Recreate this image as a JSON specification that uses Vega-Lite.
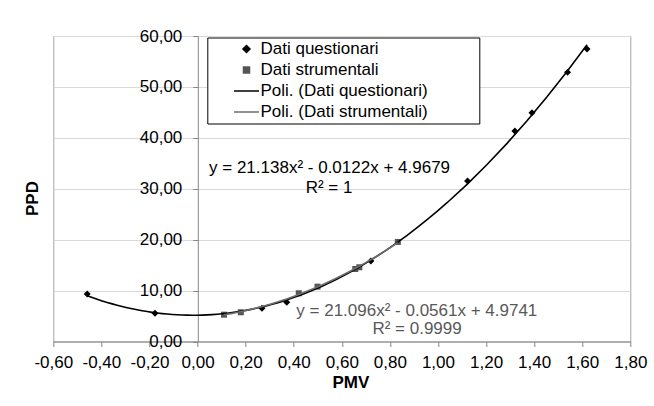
{
  "$schema": "https://vega.github.io/schema/vega-lite/v6.json",
  "width": 577,
  "height": 305.5,
  "autosize": {"type": "none"},
  "padding": {"left": 53.3, "top": 36, "right": 23.7, "bottom": 64.5},
  "background": "white",
  "config": {
    "font": "Liberation Sans",
    "view": {"stroke": "#a6a6a6", "strokeWidth": 1}
  },
  "datasets": {
    "pts": [
      {"PMV": -0.459, "PPD": 9.33, "series": "Dati questionari", "trend": "Poli. (Dati questionari)"},
      {"PMV": -0.177, "PPD": 5.54, "series": "Dati questionari", "trend": "Poli. (Dati questionari)"},
      {"PMV": 0.268, "PPD": 6.52, "series": "Dati questionari", "trend": "Poli. (Dati questionari)"},
      {"PMV": 0.371, "PPD": 7.7, "series": "Dati questionari", "trend": "Poli. (Dati questionari)"},
      {"PMV": 0.721, "PPD": 15.82, "series": "Dati questionari", "trend": "Poli. (Dati questionari)"},
      {"PMV": 1.123, "PPD": 31.53, "series": "Dati questionari", "trend": "Poli. (Dati questionari)"},
      {"PMV": 1.32, "PPD": 41.36, "series": "Dati questionari", "trend": "Poli. (Dati questionari)"},
      {"PMV": 1.391, "PPD": 44.95, "series": "Dati questionari", "trend": "Poli. (Dati questionari)"},
      {"PMV": 1.539, "PPD": 52.89, "series": "Dati questionari", "trend": "Poli. (Dati questionari)"},
      {"PMV": 1.62, "PPD": 57.47, "series": "Dati questionari", "trend": "Poli. (Dati questionari)"},
      {"PMV": 0.11, "PPD": 5.27, "series": "Dati strumentali", "trend": "Poli. (Dati strumentali)"},
      {"PMV": 0.18, "PPD": 5.74, "series": "Dati strumentali", "trend": "Poli. (Dati strumentali)"},
      {"PMV": 0.421, "PPD": 9.47, "series": "Dati strumentali", "trend": "Poli. (Dati strumentali)"},
      {"PMV": 0.499, "PPD": 10.77, "series": "Dati strumentali", "trend": "Poli. (Dati strumentali)"},
      {"PMV": 0.656, "PPD": 14.24, "series": "Dati strumentali", "trend": "Poli. (Dati strumentali)"},
      {"PMV": 0.673, "PPD": 14.58, "series": "Dati strumentali", "trend": "Poli. (Dati strumentali)"},
      {"PMV": 0.833, "PPD": 19.55, "series": "Dati strumentali", "trend": "Poli. (Dati strumentali)"}
    ],
    "eq": [
      {"label": "y = 21.138x² - 0.0122x + 4.9679", "group": "q", "line": 1},
      {"label": "R² = 1", "group": "q", "line": 2},
      {"label": "y = 21.096x² - 0.0561x + 4.9741", "group": "s", "line": 1},
      {"label": "R² = 0.9999", "group": "s", "line": 2}
    ]
  },
  "layer": [
    {
      "data": {"name": "pts"},
      "mark": {"type": "point", "filled": true, "size": 196, "opacity": 1},
      "encoding": {
        "x": {
          "field": "PMV",
          "type": "quantitative",
          "scale": {"domain": [-0.6, 1.8], "nice": false, "zero": false},
          "axis": {
            "title": "PMV",
            "values": [-0.6, -0.4, -0.2, 0, 0.2, 0.4, 0.6, 0.8, 1, 1.2, 1.4, 1.6, 1.8],
            "labelExpr": "replace(replace(format(datum.value, '.2f'), '.', ','), '\u2212', '-')",
            "grid": false,
            "domainColor": "#868686",
            "tickColor": "#868686",
            "tickSize": 5,
            "labelFontSize": 17,
            "labelColor": "#000000",
            "labelPadding": 8,
            "labelFlush": false,
            "labelOverlap": false,
            "labelBound": false,
            "titleFontSize": 17,
            "titleFontWeight": "bold",
            "titleColor": "#000000",
            "titlePadding": 4,
            "titleX": 297
          }
        },
        "y": {
          "field": "PPD",
          "type": "quantitative",
          "scale": {"domain": [0, 60], "nice": false, "zero": false},
          "axis": {
            "title": "PPD",
            "values": [0, 10, 20, 30, 40, 50, 60],
            "labelExpr": "replace(format(datum.value, '.2f'), '.', ',')",
            "offset": -144.5,
            "grid": true,
            "gridColor": "#d9d9d9",
            "gridWidth": 1,
            "domainColor": "#868686",
            "tickColor": "#868686",
            "tickSize": 5,
            "labelFontSize": 17,
            "labelColor": "#000000",
            "labelPadding": 11,
            "labelFlush": false,
            "labelOverlap": false,
            "labelBound": false,
            "titleFontSize": 17,
            "titleFontWeight": "bold",
            "titleColor": "#000000",
            "titleAngle": -90,
            "titleBaseline": "middle",
            "titleAlign": "center",
            "titleX": -165.8,
            "titleY": 162
          }
        },
        "color": {
          "field": "series",
          "type": "nominal",
          "scale": {
            "domain": ["Dati questionari", "Dati strumentali", "Poli. (Dati questionari)\u2800\u2800\u2800\u2800", "Poli. (Dati strumentali)\u2800\u2800\u2800\u2800"],
            "range": ["#000000", "#555555", "#000000", "#6e6e6e"]
          },
          "legend": {
            "title": null,
            "orient": "none",
            "legendX": 154,
            "legendY": 1.5,
            "padding": 3,
            "strokeColor": "#000000",
            "fillColor": "#ffffff",
            "labelFontSize": 17,
            "labelColor": "#000000",
            "labelFont": "Liberation Sans",
            "labelLimit": 400,
            "symbolSize": 196,
            "symbolOffset": 27.7,
            "labelOffset": 5.5,
            "rowPadding": 3.0,
            "symbolStrokeWidth": 1.5,
            "symbolOpacity": 1,
            "encode": {
              "symbols": {"update": {"stroke": {"scale": "color", "field": "value"}}}
            }
          }
        },
        "shape": {
          "field": "series",
          "type": "nominal",
          "scale": {
            "domain": ["Dati questionari", "Dati strumentali", "Poli. (Dati questionari)\u2800\u2800\u2800\u2800", "Poli. (Dati strumentali)\u2800\u2800\u2800\u2800"],
            "range": ["M0,-0.5L0.5,0L0,0.5L-0.5,0Z", "M-0.43,-0.43H0.43V0.43H-0.43Z", "M-1.79,0H1.79", "M-1.79,0H1.79"]
          }
        }
      }
    },
    {
      "data": {"name": "pts"},
      "transform": [
        {"regression": "PPD", "on": "PMV", "method": "poly", "order": 2, "groupby": ["trend"]}
      ],
      "mark": {"type": "line", "strokeWidth": 1.6},
      "encoding": {
        "x": {"field": "PMV", "type": "quantitative"},
        "y": {"field": "PPD", "type": "quantitative"},
        "stroke": {
          "field": "trend",
          "type": "nominal",
          "scale": {
            "domain": ["Poli. (Dati questionari)", "Poli. (Dati strumentali)"],
            "range": ["#000000", "#6e6e6e"]
          },
          "legend": null
        }
      }
    },
    {
      "data": {"name": "eq"},
      "transform": [{"filter": "datum.group == 'q' && datum.line == 1"}],
      "mark": {"type": "text", "fontSize": 17, "fill": "#000000", "baseline": "middle", "align": "center"},
      "encoding": {
        "x": {"datum": 0.549},
        "y": {"datum": 34.0},
        "text": {"field": "label"}
      }
    },
    {
      "data": {"name": "eq"},
      "transform": [{"filter": "datum.group == 'q' && datum.line == 2"}],
      "mark": {"type": "text", "fontSize": 17, "fill": "#000000", "baseline": "middle", "align": "center"},
      "encoding": {
        "x": {"datum": 0.547},
        "y": {"datum": 30.2},
        "text": {"field": "label"}
      }
    },
    {
      "data": {"name": "eq"},
      "transform": [{"filter": "datum.group == 's' && datum.line == 1"}],
      "mark": {"type": "text", "fontSize": 17, "fill": "#595959", "baseline": "middle", "align": "center"},
      "encoding": {
        "x": {"datum": 0.912},
        "y": {"datum": 6.05},
        "text": {"field": "label"}
      }
    },
    {
      "data": {"name": "eq"},
      "transform": [{"filter": "datum.group == 's' && datum.line == 2"}],
      "mark": {"type": "text", "fontSize": 17, "fill": "#595959", "baseline": "middle", "align": "center"},
      "encoding": {
        "x": {"datum": 0.913},
        "y": {"datum": 2.45},
        "text": {"field": "label"}
      }
    }
  ]
}
